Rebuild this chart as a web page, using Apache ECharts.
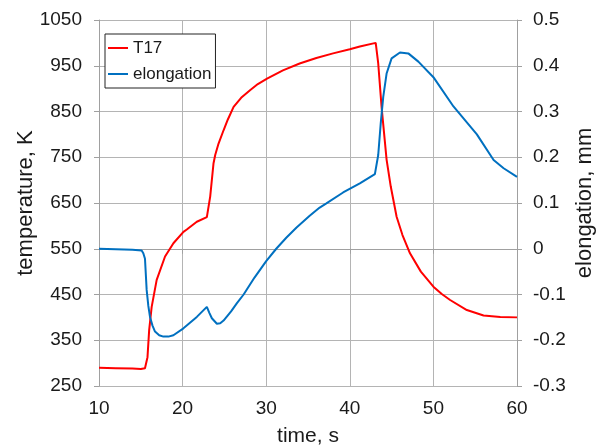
<!DOCTYPE html>
<html><head><meta charset="utf-8">
<script src="https://cdn.jsdelivr.net/npm/echarts@6/dist/echarts.min.js"></script>
<style>html,body{margin:0;padding:0;background:#fff}#c{width:601px;height:447px}</style>
</head><body><div id="c"></div>
<script>
const tempTime = [10,12,14,15,15.5,15.8,16.0,16.3,16.9,17.9,18.9,20.1,20.5,21.7,22.9,23.3,23.7,23.9,24.3,24.9,25.4,26.1,27,28.1,29,30.1,32,34,36,38,40,41.2,43.1,43.4,43.8,44.4,44.9,45.6,46.3,47.2,48.5,50,51,52,54,56,58,60];
const tempValues = [290,289,288,287,289,313,372,423,482,533,562,587,592,609,619,664,737,755,780,809,832,860,880,897,910,922,940,955,967,977,986,992,1000,955,860,745,686,620,580,540,500,467,451,438,416,404,401,400];
const elongTime = [10,12,14,15.1,15.3,15.5,15.7,15.9,16.1,16.4,16.7,17.2,17.7,18.3,18.9,20.1,21.7,22.9,23.2,23.5,24.1,24.5,24.9,25.8,26.5,27.3,28.6,30,31.2,32.4,33.6,35.2,36.4,37.2,39.2,41.2,43.0,43.4,43.7,44.0,44.4,45.0,46.0,47.0,48.2,50,52.4,55.2,57.2,58.4,60];
const elongValues = [0,-0.001,-0.002,-0.004,-0.010,-0.022,-0.090,-0.125,-0.149,-0.168,-0.181,-0.189,-0.192,-0.192,-0.189,-0.174,-0.149,-0.127,-0.140,-0.152,-0.164,-0.163,-0.157,-0.137,-0.119,-0.100,-0.063,-0.027,0,0.024,0.046,0.072,0.090,0.099,0.123,0.143,0.163,0.205,0.274,0.332,0.383,0.416,0.429,0.427,0.409,0.375,0.311,0.250,0.194,0.176,0.157];
const seriesNames = ['T17','elongation'];
const xTitle = 'time, s', yLeftTitle = 'temperature, K', yRightTitle = 'elongation, mm';

const FONT = "'Liberation Sans', Arial, sans-serif";
const TXT = '#1a1a1a';
const GRID = '#b4b4b4';
const chart = echarts.init(document.getElementById('c'));
chart.setOption({
  animation: false,
  backgroundColor: '#fff',
  textStyle: {fontFamily: FONT, color: TXT},
  grid: {left: 99, right: 84, top: 20, bottom: 61, containLabel: false, outerBoundsMode: 'none'},
  legend: {
    left: 105, top: 34, orient: 'vertical',
    padding: [4, 4, 4, 3], itemGap: 6, itemWidth: 20, itemHeight: 2, itemTextGap: 1,
    icon: 'rect', borderColor: '#222', borderWidth: 1, backgroundColor: '#fff',
    textStyle: {fontSize: 17, fontFamily: FONT, color: TXT, lineHeight: 20},
    data: seriesNames
  },
  xAxis: {
    type: 'value', min: 10, max: 60, interval: 10,
    name: xTitle, nameLocation: 'middle', nameGap: 40, nameMoveOverlap: false,
    nameTextStyle: {fontSize: 21, fontFamily: FONT, color: TXT},
    axisLine: {show: true, lineStyle: {color: '#a0a0a0'}},
    axisTick: {show: true, length: 5, lineStyle: {color: '#a0a0a0'}},
    axisLabel: {fontSize: 19, color: TXT, fontFamily: FONT, margin: 13, formatter: v => String(v)},
    splitLine: {show: true, lineStyle: {color: GRID}}
  },
  yAxis: [{
    type: 'value', min: 250, max: 1050, interval: 100,
    name: yLeftTitle, nameLocation: 'middle', nameGap: 62, nameRotate: 90, nameMoveOverlap: false,
    nameTextStyle: {fontSize: 22, fontFamily: FONT, color: TXT},
    axisLine: {show: true, lineStyle: {color: '#a0a0a0'}},
    axisTick: {show: true, length: 5, lineStyle: {color: '#a0a0a0'}},
    axisLabel: {fontSize: 19, color: TXT, fontFamily: FONT, margin: 17, formatter: v => String(v)},
    splitLine: {show: true, lineStyle: {color: GRID}}
  }, {
    type: 'value', min: -0.3, max: 0.5, interval: 0.1, position: 'right',
    name: yRightTitle, nameLocation: 'middle', nameGap: 57, nameRotate: 90, nameMoveOverlap: false,
    nameTextStyle: {fontSize: 22, fontFamily: FONT, color: TXT},
    axisLine: {show: true, lineStyle: {color: '#a0a0a0'}},
    axisTick: {show: true, length: 5, lineStyle: {color: '#a0a0a0'}},
    axisLabel: {fontSize: 19, color: TXT, fontFamily: FONT, margin: 16,
      formatter: v => String(+v.toFixed(1))},
    splitLine: {show: false}
  }],
  series: [{
    name: seriesNames[0], type: 'line', yAxisIndex: 0, showSymbol: false, symbol: 'none',
    smooth: false,
    lineStyle: {color: '#ff0000', width: 2}, itemStyle: {color: '#ff0000'},
    data: tempTime.map((t, i) => [t, tempValues[i]])
  }, {
    name: seriesNames[1], type: 'line', yAxisIndex: 1, showSymbol: false, symbol: 'none',
    smooth: false,
    lineStyle: {color: '#0070c0', width: 2}, itemStyle: {color: '#0070c0'},
    data: elongTime.map((t, i) => [t, elongValues[i]])
  }]
});
</script></body></html>
